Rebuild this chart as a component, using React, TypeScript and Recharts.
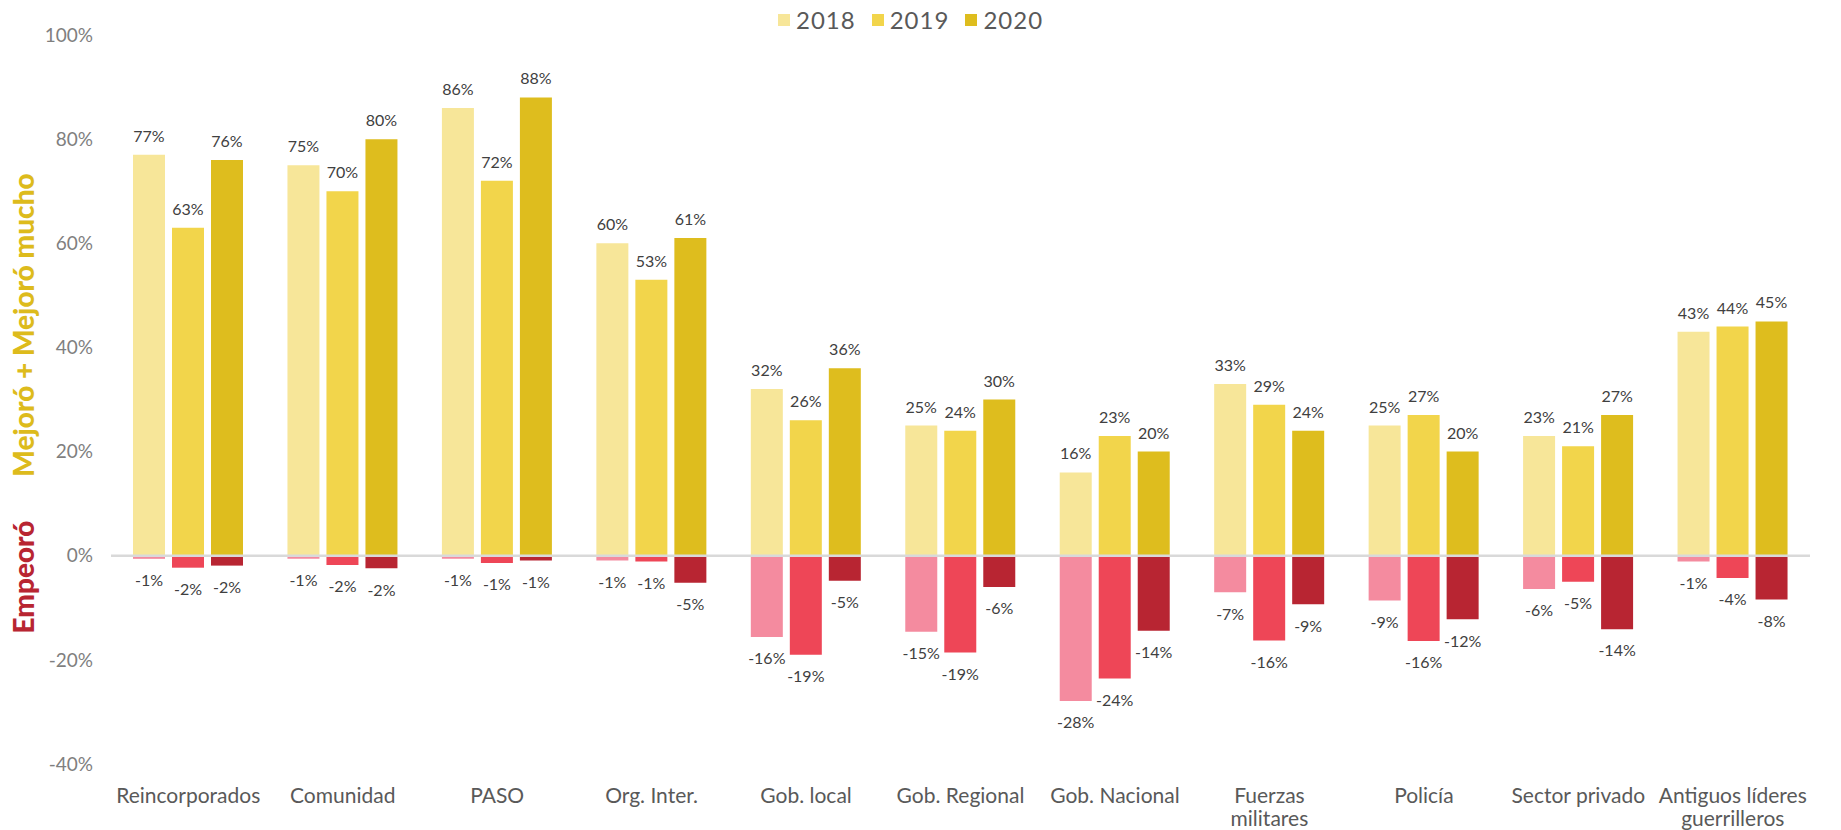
import React from 'react'
import { BarChart, Bar, XAxis, YAxis, LabelList, ReferenceLine } from 'recharts'

// categorías (el \n parte la etiqueta en dos líneas)
const categories = [
  'Reincorporados',
  'Comunidad',
  'PASO',
  'Org. Inter.',
  'Gob. local',
  'Gob. Regional',
  'Gob. Nacional',
  'Fuerzas\nmilitares',
  'Policía',
  'Sector privado',
  'Antiguos líderes\nguerrilleros',
]

const years = ['2018', '2019', '2020']

// Mejoró + Mejoró mucho
const mejoro2018 = [77, 75, 86, 60, 32, 25, 16, 33, 25, 23, 43]
const mejoro2019 = [63, 70, 72, 53, 26, 24, 23, 29, 27, 21, 44]
const mejoro2020 = [76, 80, 88, 61, 36, 30, 20, 24, 20, 27, 45]

// Empeoró
const empeoro2018 = [-0.6, -0.6, -0.6, -0.9, -15.6, -14.6, -27.9, -7.0, -8.6, -6.4, -1.1]
const empeoro2019 = [-2.3, -1.8, -1.4, -1.1, -19.0, -18.6, -23.6, -16.3, -16.4, -5.0, -4.3]
const empeoro2020 = [-1.9, -2.4, -0.9, -5.2, -4.8, -6.0, -14.4, -9.3, -12.2, -14.1, -8.4]

const yTicks = [-40, -20, 0, 20, 40, 60, 80, 100]

const posColors = ['#F7E699', '#F2D54B', '#DEBD1E']
const negColors = ['#F48B9F', '#EE4657', '#B82532']

const mejoro = [mejoro2018, mejoro2019, mejoro2020]
const empeoro = [empeoro2018, empeoro2019, empeoro2020]

const data = categories.map((name, i) => {
  const row: Record<string, string | number> = { name }
  years.forEach((y, k) => {
    row[`p${y}`] = mejoro[k][i]
    row[`n${y}`] = empeoro[k][i]
  })
  return row
})

const pct = (v: any) => `${Math.round(Number(v))}%`

function CategoryTick({ x, y, payload }: any) {
  const lines = String(payload.value).split('\n')
  return (
    <text x={x} y={y + 39} textAnchor="middle" fill="#595959" fontSize={21}>
      {lines.map((l, i) => (
        <tspan key={i} x={x} dy={i === 0 ? 0 : 23}>
          {l}
        </tspan>
      ))}
    </text>
  )
}

const labelStyle = { fill: '#404040', fontSize: 16 }

export default function App() {
  return (
    <div
      style={{
        position: 'absolute',
        left: 0,
        top: 0,
        width: 1841,
        height: 830,
        background: '#fff',
        fontFamily: 'Lato, sans-serif',
      }}
    >
      {/* leyenda */}
      <div
        style={{
          position: 'absolute',
          left: 778,
          top: 5,
          display: 'flex',
          alignItems: 'center',
          fontSize: 24,
          color: '#595959',
          letterSpacing: 1,
        }}
      >
        {years.map((y, k) => (
          <div key={y} style={{ display: 'flex', alignItems: 'center', marginRight: 16 }}>
            <span style={{ width: 12, height: 12, background: posColors[k], marginRight: 6 }} />
            <span>{y}</span>
          </div>
        ))}
      </div>

      {/* títulos del eje y */}
      <svg width={60} height={830} style={{ position: 'absolute', left: 0, top: 0 }}>
        <text
          transform="translate(23,325) rotate(-90)"
          textAnchor="middle"
          dominantBaseline="central"
          fontSize={28}
          fontWeight={900}
          fill="#DDBB1C"
        >
          Mejoró + Mejoró mucho
        </text>
        <text
          transform="translate(23,577) rotate(-90)"
          textAnchor="middle"
          dominantBaseline="central"
          fontSize={28}
          fontWeight={900}
          fill="#B82532"
        >
          Empeoró
        </text>
      </svg>

      <BarChart
        width={1841}
        height={830}
        data={data}
        margin={{ top: 35, right: 31, left: 0, bottom: 0 }}
        stackOffset="sign"
        barGap={7}
        style={{ position: 'absolute', left: 0, top: 0 }}
      >
        <XAxis
          dataKey="name"
          interval={0}
          height={66}
          tickLine={false}
          axisLine={false}
          tickSize={0}
          tickMargin={0}
          tick={<CategoryTick />}
        />
        <YAxis
          domain={[-40, 100]}
          ticks={yTicks}
          width={111}
          tickFormatter={(v) => `${v}%`}
          tickLine={false}
          axisLine={false}
          tickSize={0}
          tickMargin={18}
          tick={{ fill: '#7F7F7F', fontSize: 19 }}
        />
        {years.map((y, k) => (
          <Bar
            key={`p${y}`}
            dataKey={`p${y}`}
            stackId={y}
            fill={posColors[k]}
            barSize={32}
            isAnimationActive={false}
          >
            <LabelList dataKey={`p${y}`} position="top" offset={13} formatter={pct} {...labelStyle} />
          </Bar>
        ))}
        {years.map((y, k) => (
          <Bar
            key={`n${y}`}
            dataKey={`n${y}`}
            stackId={y}
            fill={negColors[k]}
            barSize={32}
            isAnimationActive={false}
          >
            {/* con altura negativa "top" queda debajo del extremo de la barra */}
            <LabelList dataKey={`n${y}`} position="top" offset={16} formatter={pct} {...labelStyle} />
          </Bar>
        ))}
        <ReferenceLine y={0} stroke="#D9D9D9" strokeWidth={2.5} />
      </BarChart>
    </div>
  )
}
